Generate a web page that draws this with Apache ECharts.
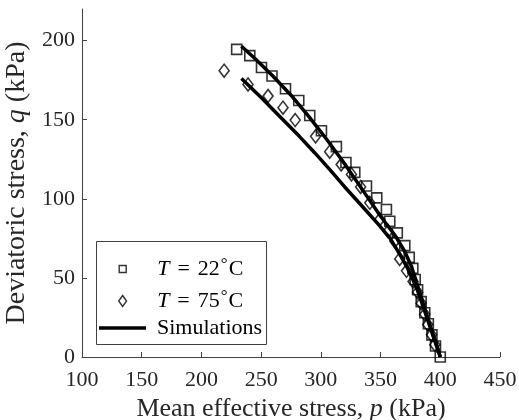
<!DOCTYPE html>
<html><head><meta charset="utf-8">
<script src="https://cdn.jsdelivr.net/npm/echarts@6/dist/echarts.min.js"></script>
<style>html,body{margin:0;padding:0;background:#fff}#c{width:519px;height:420px}</style>
</head><body><div id="c"></div>
<script>
// Tick labels
const xTicks = [100, 150, 200, 250, 300, 350, 400, 450];
const yTicks = [0, 50, 100, 150, 200];
// Experimental data [p, q] (kPa)
const exp22 = [[229.5,194.5],[240.5,190.5],[250.3,183],[259.1,177.6],[270.4,169.6],[281.5,162.2],[290.7,152.7],[300.5,143],[313,133],[321,123],[328.4,116.7],[338.2,108.1],[346.8,100.6],[354.9,93.2],[357.7,85.8],[364,78.5],[370.3,70.4],[374,63],[377,56],[379,49],[381,42.5],[384,35],[387,28],[390,21],[393,14],[396,7],[400,0]];
const exp75 = [[219,181],[239,172.3],[255.8,165],[268.3,157.6],[278.5,149.8],[295.6,139.5],[307.4,129.8],[317,121.7],[325.6,115.4],[333.3,107.5],[341,97.5],[349.3,87],[356.3,79.5],[361.9,73.2],[366,62],[371.7,54.5],[377.2,47.8],[381,41],[384,34],[387,27],[389.5,20.5],[392.6,14],[395.4,7.8]];
// Simulations [p, q]
const sim22 = [[233.5,196.5],[245,188.5],[260,177.5],[275,165.5],[290,152],[305,137.5],[320,122],[335,105.5],[350,89],[362,77],[370,67],[376,57],[381,45],[386,33],[391,21],[395,12],[398,5],[400,0]];
const sim75 = [[233.5,176],[250,164],[265,152.5],[282,139.5],[295,129],[307.5,118.5],[320,107.5],[335,95],[348,84],[358,75],[366,65],[372,57],[377,49],[381,42],[386,31],[391,20],[395,11],[398,4.5],[400,0]];

const FF = "'Liberation Serif', 'Times New Roman', Times, serif";
const TXT = '#262626';
const AX = '#404040';
const LFS = 22;
const legendRich = {
  n: {fontFamily: FF, fontSize: LFS, color: '#000', lineHeight: 24},
  e: {fontFamily: FF, fontSize: LFS, color: '#000', lineHeight: 24, padding: [0, 8, 0, 8]},
  i: {fontFamily: FF, fontSize: LFS, color: '#000', fontStyle: 'italic', lineHeight: 24},
  s: {fontFamily: FF, fontSize: 17, color: '#000', lineHeight: 17, padding: [0, 1, 9, 1]}
};
const legendText = {
  T22: '{i|T}{e|=}{n|22}{s|°}{n|C}',
  T75: '{i|T}{e|=}{n|75}{s|°}{n|C}',
  Simulations: '{n|Simulations}'
};
function mkLegend(name, left, top, icon, ih, style) {
  return {
    data: [name], left: left, top: top, orient: 'vertical', padding: 0,
    itemWidth: 47, itemHeight: ih, itemGap: 0,
    icon: icon, itemStyle: style,
    formatter: n => legendText[n],
    textStyle: {fontFamily: FF, fontSize: LFS, color: '#000', padding: [0, 0, 0, 6], rich: legendRich},
    selectedMode: false
  };
}
const hollow = {color: 'rgba(0,0,0,0)', borderColor: '#000', borderWidth: 1.4};

const chart = echarts.init(document.getElementById('c'), null, {renderer: 'canvas'});
chart.setOption({
  animation: false,
  backgroundColor: '#fff',
  grid: {left: 82, right: 19, top: 9, bottom: 63, containLabel: false, outerBoundsMode: 'none'},
  xAxis: {
    type: 'value', min: 100, max: 450, interval: 50,
    axisLine: {show: true, lineStyle: {color: AX, width: 1}},
    axisTick: {show: true, inside: true, length: 5, lineStyle: {color: AX}},
    splitLine: {show: false},
    axisLabel: {color: TXT, fontFamily: FF, fontSize: 22, margin: 12, customValues: xTicks},
    name: 'Mean effective stress, {i|p} (kPa)', nameLocation: 'middle', nameGap: 35,
    nameTextStyle: {fontFamily: FF, fontSize: 26, color: TXT,
      rich: {i: {fontFamily: FF, fontSize: 26, color: TXT, fontStyle: 'italic'}}}
  },
  yAxis: {
    type: 'value', min: 0, max: 220, interval: 50,
    axisLine: {show: true, lineStyle: {color: AX, width: 1}},
    axisTick: {show: true, inside: true, length: 5, lineStyle: {color: AX}, customValues: yTicks},
    splitLine: {show: false},
    axisLabel: {color: TXT, fontFamily: FF, fontSize: 22, margin: 7, customValues: yTicks,
      formatter: v => (v % 50 === 0 ? String(v) : '')},
    name: 'Deviatoric stress, {i|q} (kPa)', nameLocation: 'middle', nameGap: 42, nameRotate: 90,
    nameTextStyle: {fontFamily: FF, fontSize: 28, color: TXT,
      rich: {i: {fontFamily: FF, fontSize: 28, color: TXT, fontStyle: 'italic'}}}
  },
  legend: [
    mkLegend('T22', 118.5, 268 - 12, 'path://M0,0L10,0L10,10L0,10Z', 7, hollow),
    mkLegend('T75', 118, 300 - 12, 'path://M5,0L10,7L5,14L0,7Z', 11, hollow),
    mkLegend('Simulations', 99, 329 - 12, 'rect', 3.5, {color: '#000', borderWidth: 0})
  ],
  graphic: [{
    type: 'rect', shape: {x: 96.5, y: 241.5, width: 170, height: 103},
    style: {fill: '#fff', stroke: '#404040', lineWidth: 1}, z: -1, silent: true
  }],
  series: [
    {name: 'T22', type: 'scatter', data: exp22, symbol: 'rect', symbolSize: 10, z: 2,
      itemStyle: {color: 'rgba(0,0,0,0)', borderColor: '#000', borderWidth: 1.6}},
    {name: 'T75', type: 'scatter', data: exp75, symbol: 'diamond', symbolSize: [10, 13], z: 2,
      itemStyle: {color: 'rgba(0,0,0,0)', borderColor: '#000', borderWidth: 1.6}},
    {name: 'Simulations', type: 'line', data: sim22, showSymbol: false, symbol: 'none', z: 3,
      lineStyle: {color: '#000', width: 3.5}, itemStyle: {color: '#000'}},
    {name: 'Simulations', type: 'line', data: sim75, showSymbol: false, symbol: 'none', z: 3,
      lineStyle: {color: '#000', width: 3.5}, itemStyle: {color: '#000'}}
  ]
});
</script></body></html>
